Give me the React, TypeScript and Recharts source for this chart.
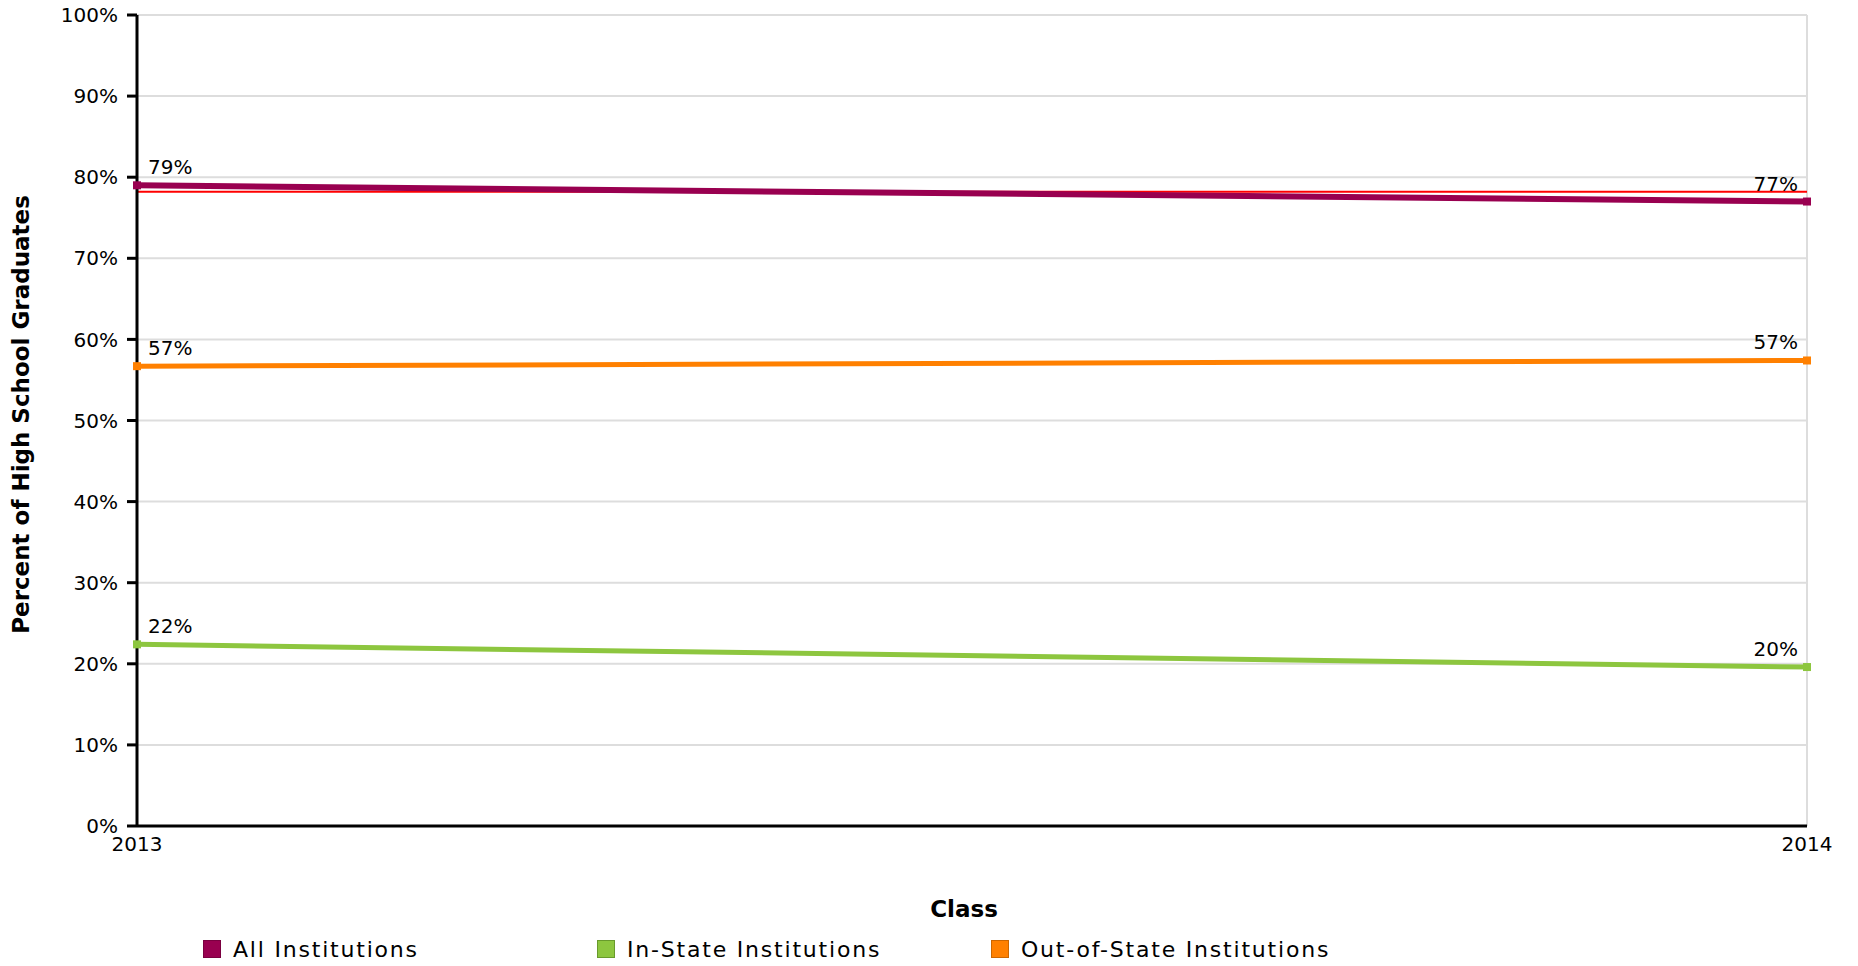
import React from "react";
import {
  LineChart,
  Line,
  XAxis,
  YAxis,
  CartesianGrid,
  ReferenceLine,
  Legend,
  LabelList,
  Label,
} from "recharts";

const years = [2013, 2014];
const allInstitutions = [79.0, 77.0];
const inState = [22.4, 19.6];
const outOfState = [56.7, 57.4];
const referenceValue = 78.2;
const yTicks = [0, 10, 20, 30, 40, 50, 60, 70, 80, 90, 100];

const series = [
  { key: "all", name: "All Institutions", color: "#990050", border: "#7a0040", width: 6 },
  { key: "inState", name: "In-State Institutions", color: "#8dc63f", border: "#689a2c", width: 5 },
  { key: "outState", name: "Out-of-State Institutions", color: "#ff8000", border: "#cc6600", width: 5 },
];

const data = years.map((y, i) => ({
  year: y,
  all: allInstitutions[i],
  inState: inState[i],
  outState: outOfState[i],
}));

const FONT = "'DejaVu Sans', sans-serif";

const makeDot = (color: string) => (props: any) => {
  const { cx, cy, index } = props;
  if (cx == null || cy == null) return <g key={index} />;
  return <rect key={index} x={cx - 4} y={cy - 4} width={8} height={8} fill={color} />;
};

const makeLabel = (count: number) => (props: any) => {
  const { x, y, value, index } = props;
  const last = index === count - 1;
  return (
    <text
      x={last ? x - 9 : x + 11}
      y={y - 11}
      textAnchor={last ? "end" : "start"}
      fontSize={20}
      fontFamily={FONT}
      fill="#000"
    >
      {Math.round(Number(value))}%
    </text>
  );
};

const LegendContent = () => (
  <div
    style={{
      position: "relative",
      height: 26,
      fontFamily: FONT,
      fontSize: 22,
      color: "#000",
    }}
  >
    {series.map((s, i) => (
      <div
        key={s.key}
        style={{
          position: "absolute",
          left: 203 + i * 394,
          top: 0,
          height: 26,
          display: "flex",
          alignItems: "center",
          whiteSpace: "nowrap",
        }}
      >
        <span
          style={{
            display: "inline-block",
            width: 16,
            height: 16,
            background: s.color,
            border: `1px solid ${s.border}`,
            marginRight: 12,
          }}
        />
        <span style={{ letterSpacing: 1.8 }}>{s.name}</span>
      </div>
    ))}
  </div>
);

export default function App() {
  return (
    <div style={{ position: "absolute", left: 0, top: 0, width: 1858, height: 966, background: "#fff" }}>
      <LineChart
        width={1858}
        height={966}
        data={data}
        margin={{ top: 15, right: 51, bottom: 0, left: 0 }}
        style={{ fontFamily: FONT }}
      >
        <CartesianGrid stroke="#dddddd" strokeWidth={2} vertical={true} horizontal={true} />
        <XAxis
          dataKey="year"
          type="number"
          domain={[2013, 2014]}
          ticks={years}
          height={140}
          tickLine={false}
          tickSize={0}
          tickMargin={11}
          axisLine={{ stroke: "#000", strokeWidth: 3 }}
          tick={{ fontSize: 20, fill: "#000", fontFamily: FONT }}
          interval={0}
        >
          <Label
            content={(p: any) => {
              const vb = p.viewBox || {};
              return (
                <text
                  x={vb.x + vb.width / 2 - 8}
                  y={vb.y + 91}
                  textAnchor="middle"
                  fontSize={23}
                  fontWeight="bold"
                  fontFamily={FONT}
                  fill="#000"
                >
                  Class
                </text>
              );
            }}
          />
        </XAxis>
        <YAxis
          type="number"
          domain={[0, 100]}
          ticks={yTicks}
          width={137}
          tickSize={10}
          tickMargin={9}
          tickFormatter={(v: number) => `${v}%`}
          tickLine={{ stroke: "#000", strokeWidth: 3 }}
          axisLine={{ stroke: "#000", strokeWidth: 3 }}
          tick={{ fontSize: 20, fill: "#000", fontFamily: FONT }}
          interval={0}
        >
          <Label
            content={(p: any) => {
              const vb = p.viewBox || {};
              const cy = vb.y + vb.height / 2 - 6;
              return (
                <text
                  x={21}
                  y={cy}
                  transform={`rotate(-90, 21, ${cy})`}
                  textAnchor="middle"
                  dominantBaseline="central"
                  fontSize={23}
                  fontWeight="bold"
                  fontFamily={FONT}
                  fill="#000"
                >
                  Percent of High School Graduates
                </text>
              );
            }}
          />
        </YAxis>
        <Legend
          verticalAlign="middle"
          align="center"
          layout="horizontal"
          content={<LegendContent />}
          wrapperStyle={{ position: "absolute", left: 0, top: 936, width: 1858, height: 26 }}
        />
        <ReferenceLine y={referenceValue} stroke="#ff0000" strokeWidth={2} ifOverflow="extendDomain" />
        {series.map((s) => (
          <Line
            key={s.key}
            dataKey={s.key}
            name={s.name}
            stroke={s.color}
            strokeWidth={s.width}
            dot={makeDot(s.color)}
            activeDot={false}
            isAnimationActive={false}
            legendType="square"
          >
            <LabelList dataKey={s.key} content={makeLabel(years.length)} />
          </Line>
        ))}
      </LineChart>
    </div>
  );
}
